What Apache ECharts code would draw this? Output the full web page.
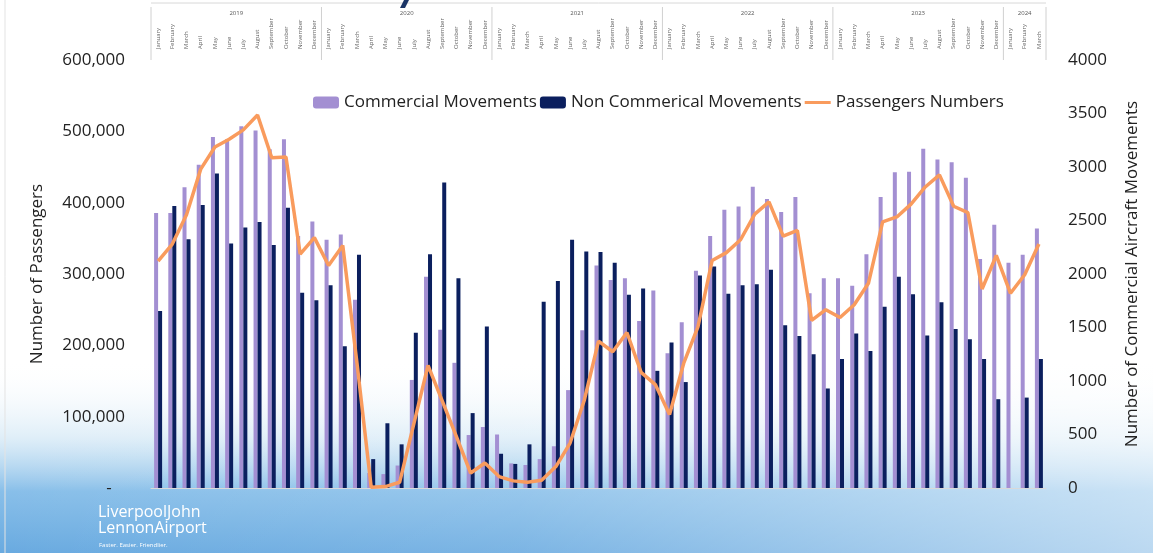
<!DOCTYPE html>
<html>
<head>
<meta charset="utf-8">
<script src="https://cdn.jsdelivr.net/npm/echarts@6/dist/echarts.min.js"></script>
</head>
<body style="margin:0">
<div id="main" style="width:1153px;height:553px;"></div>
<script type="text/javascript">
    var monthNames = ['January', 'February', 'March', 'April', 'May', 'June', 'July',
        'August', 'September', 'October', 'November', 'December'];
    var years = ['2019', '2020', '2021', '2022', '2023', '2024'];
    var monthsInYear = [12, 12, 12, 12, 12, 3];

    var categories = [];
    years.forEach(function (y, i) {
        for (var m = 0; m < monthsInYear[i]; m++) {
            categories.push(monthNames[m] + ' ' + y);
        }
    });

    // aircraft movements (right axis)
    var commercial = [
        2570, 2570, 2810, 3020, 3280, 3260, 3380, 3340, 3165, 3260, 2355, 2490,
        2320, 2370, 1760, 140, 130, 210, 1010, 1975, 1480, 1170, 495, 570,
        500, 230, 215, 270, 390, 915, 1475, 2080, 1945, 1960, 1560, 1845,
        1260, 1550, 2030, 2355, 2600, 2630, 2815, 2700, 2580, 2720, 1820, 1960,
        1960, 1890, 2185, 2720, 2950, 2955, 3170, 3070, 3045, 2900, 2140, 2460,
        2105, 2180, 2425
    ];
    var nonCommercial = [
        1655, 2635, 2325, 2645, 2940, 2285, 2435, 2485, 2270, 2620, 1825, 1755,
        1895, 1325, 2180, 270, 605, 408, 1450, 2185, 2855, 1960, 700, 1510,
        320, 225, 408, 1740, 1935, 2320, 2210, 2205, 2105, 1805, 1865, 1095,
        1360, 990, 1985, 2070, 1815, 1895, 1905, 2040, 1520, 1420, 1250, 930,
        1205, 1445, 1280, 1695, 1975, 1810, 1425, 1735, 1485, 1390, 1205, 830,
        null, 845, 1205
    ];
    // passengers (left axis)
    var passengers = [
        318000, 342000, 383000, 447000, 478000, 489000, 502000, 523000, 463000, 464000, 328000, 351000,
        312000, 340000, 175000, 1000, 2000, 8000, 90000, 172000, 122000, 72000, 21000, 35000,
        16000, 10000, 8000, 11000, 30000, 63000, 123000, 206000, 191000, 218000, 162000, 145000,
        103000, 175000, 226000, 319000, 330000, 348000, 384000, 401000, 353000, 361000, 235000, 250000,
        239000, 257000, 287000, 373000, 380000, 398000, 422000, 439000, 395000, 386000, 279000, 326000,
        273000, 299000, 342000
    ];

    var myChart = echarts.init(document.getElementById('main'));

    var option = {
        backgroundColor: '#ffffff',
        textStyle: {fontFamily: 'Open Sans'},
        legend: {
            left: 313,
            top: 94,
            padding: 0,
            itemWidth: 26,
            itemHeight: 12,
            itemGap: 3,
            textStyle: {fontSize: 17, color: '#222'},
            data: [
                'Commercial Movements',
                'Non Commerical Movements',
                {name: 'Passengers Numbers', icon: 'path://M0,0 L26,0 L26,3 L0,3 Z'}
            ]
        },
        grid: {left: 151, right: 107, top: 60, bottom: 65},
        xAxis: [{
            type: 'category',
            data: categories,
            axisLine: {lineStyle: {color: '#d9d9d9'}},
            axisTick: {interval: 0, length: 4, lineStyle: {color: '#d9d9d9'}},
            axisLabel: {show: false}
        }, {
            type: 'category',
            data: categories,
            position: 'top',
            axisLine: {show: false},
            axisTick: {interval: 0, length: 36, lineStyle: {color: '#dcdcdc'}},
            axisLabel: {
                interval: 0,
                rotate: 90,
                fontSize: 6,
                color: '#666',
                margin: 11,
                formatter: function (v) {
                    return v.split(' ')[0];
                }
            }
        }],
        yAxis: [{
            type: 'value',
            min: 0,
            max: 600000,
            interval: 100000,
            name: 'Number of Passengers',
            nameLocation: 'middle',
            nameGap: 105,
            nameTextStyle: {fontSize: 17, color: '#222'},
            axisLabel: {
                fontSize: 17,
                color: '#222',
                margin: 26,
                formatter: function (v) {
                    return v === 0 ? '-\u00a0\u00a0\u00a0' : v.toLocaleString('en-US');
                }
            },
            splitLine: {show: false},
            axisLine: {show: false},
            axisTick: {show: false}
        }, {
            type: 'value',
            min: 0,
            max: 4000,
            interval: 500,
            name: 'Number of Commercial Aircraft Movements',
            nameLocation: 'middle',
            nameGap: 78,
            nameTextStyle: {fontSize: 17, color: '#222'},
            axisLabel: {
                fontSize: 17,
                color: '#222',
                margin: 22,
                formatter: function (v) {
                    return String(v);
                }
            },
            splitLine: {show: false},
            axisLine: {show: false},
            axisTick: {show: false}
        }],
        series: [{
            name: 'Commercial Movements',
            type: 'bar',
            yAxisIndex: 1,
            barWidth: 4,
            barGap: '0%',
            itemStyle: {color: '#a38fd2'},
            data: commercial
        }, {
            name: 'Non Commerical Movements',
            type: 'bar',
            yAxisIndex: 1,
            barWidth: 4,
            itemStyle: {color: '#0b1f5e'},
            data: nonCommercial
        }, {
            name: 'Passengers Numbers',
            type: 'line',
            yAxisIndex: 0,
            symbol: 'none',
            z: 5,
            lineStyle: {width: 3.5, color: '#f99b5d'},
            itemStyle: {color: '#f99b5d'},
            data: passengers
        }]
    };
    myChart.setOption(option);

    // header table (years / month separators) and background, placed from the axis scale
    var c0 = myChart.convertToPixel({xAxisIndex: 0}, 0);
    var c1 = myChart.convertToPixel({xAxisIndex: 0}, 1);
    var band = c1 - c0;
    var edge = function (i) {
        return c0 + (i - 0.5) * band;
    };
    var gridTop = 60;

    var elements = [{
        type: 'rect',
        z: -10,
        silent: true,
        shape: {x: 0, y: 360, width: 1153, height: 193},
        style: {
            fill: new echarts.graphic.LinearGradient(0, 0, 0, 1, [
                {offset: 0, color: 'rgba(255,255,255,0)'},
                {offset: 0.4, color: 'rgba(185,218,240,0.45)'},
                {offset: 0.68, color: 'rgba(120,182,230,0.88)'},
                {offset: 1, color: 'rgba(105,170,224,1)'}
            ])
        }
    }, {
        type: 'rect',
        z: -9,
        silent: true,
        shape: {x: 0, y: 360, width: 1153, height: 193},
        style: {
            fill: new echarts.graphic.LinearGradient(0, 0, 1, 0, [
                {offset: 0, color: 'rgba(255,255,255,0)'},
                {offset: 0.45, color: 'rgba(255,255,255,0.12)'},
                {offset: 1, color: 'rgba(255,255,255,0.55)'}
            ])
        }
    }, {
        type: 'line',
        silent: true,
        shape: {x1: 5, y1: 0, x2: 5, y2: 553},
        style: {stroke: '#e3e3e3', lineWidth: 1}
    }, {
        type: 'line',
        silent: true,
        shape: {x1: edge(0), y1: 3, x2: edge(categories.length), y2: 3},
        style: {stroke: '#d8d8d8', lineWidth: 1}
    }, {
        type: 'polygon',
        silent: true,
        shape: {points: [[404, 0], [409, 0], [405, 8], [400, 8]]},
        style: {fill: '#1b3566'}
    }, {
        type: 'text',
        silent: true,
        style: {
            x: 98, y: 504, text: 'LiverpoolJohn\nLennonAirport',
            fill: '#ffffff', fontSize: 16, fontFamily: 'Open Sans', lineHeight: 16
        }
    }, {
        type: 'text',
        silent: true,
        style: {
            x: 99, y: 542, text: 'Faster. Easier. Friendlier.',
            fill: '#ffffff', fontSize: 6, fontFamily: 'Open Sans'
        }
    }];

    var start = 0;
    years.forEach(function (y, i) {
        var end = start + monthsInYear[i];
        elements.push({
            type: 'line',
            silent: true,
            shape: {x1: edge(start), y1: 7, x2: edge(start), y2: gridTop},
            style: {stroke: '#d0d0d0', lineWidth: 1}
        });
        elements.push({
            type: 'text',
            silent: true,
            style: {
                x: (edge(start) + edge(end)) / 2, y: 13, text: y,
                fill: '#555', fontSize: 6, fontFamily: 'Open Sans',
                align: 'center', verticalAlign: 'middle'
            }
        });
        start = end;
    });
    elements.push({
        type: 'line',
        silent: true,
        shape: {x1: edge(start), y1: 7, x2: edge(start), y2: gridTop},
        style: {stroke: '#d0d0d0', lineWidth: 1}
    });

    myChart.setOption({graphic: {elements: elements}});
</script>
</body>
</html>
